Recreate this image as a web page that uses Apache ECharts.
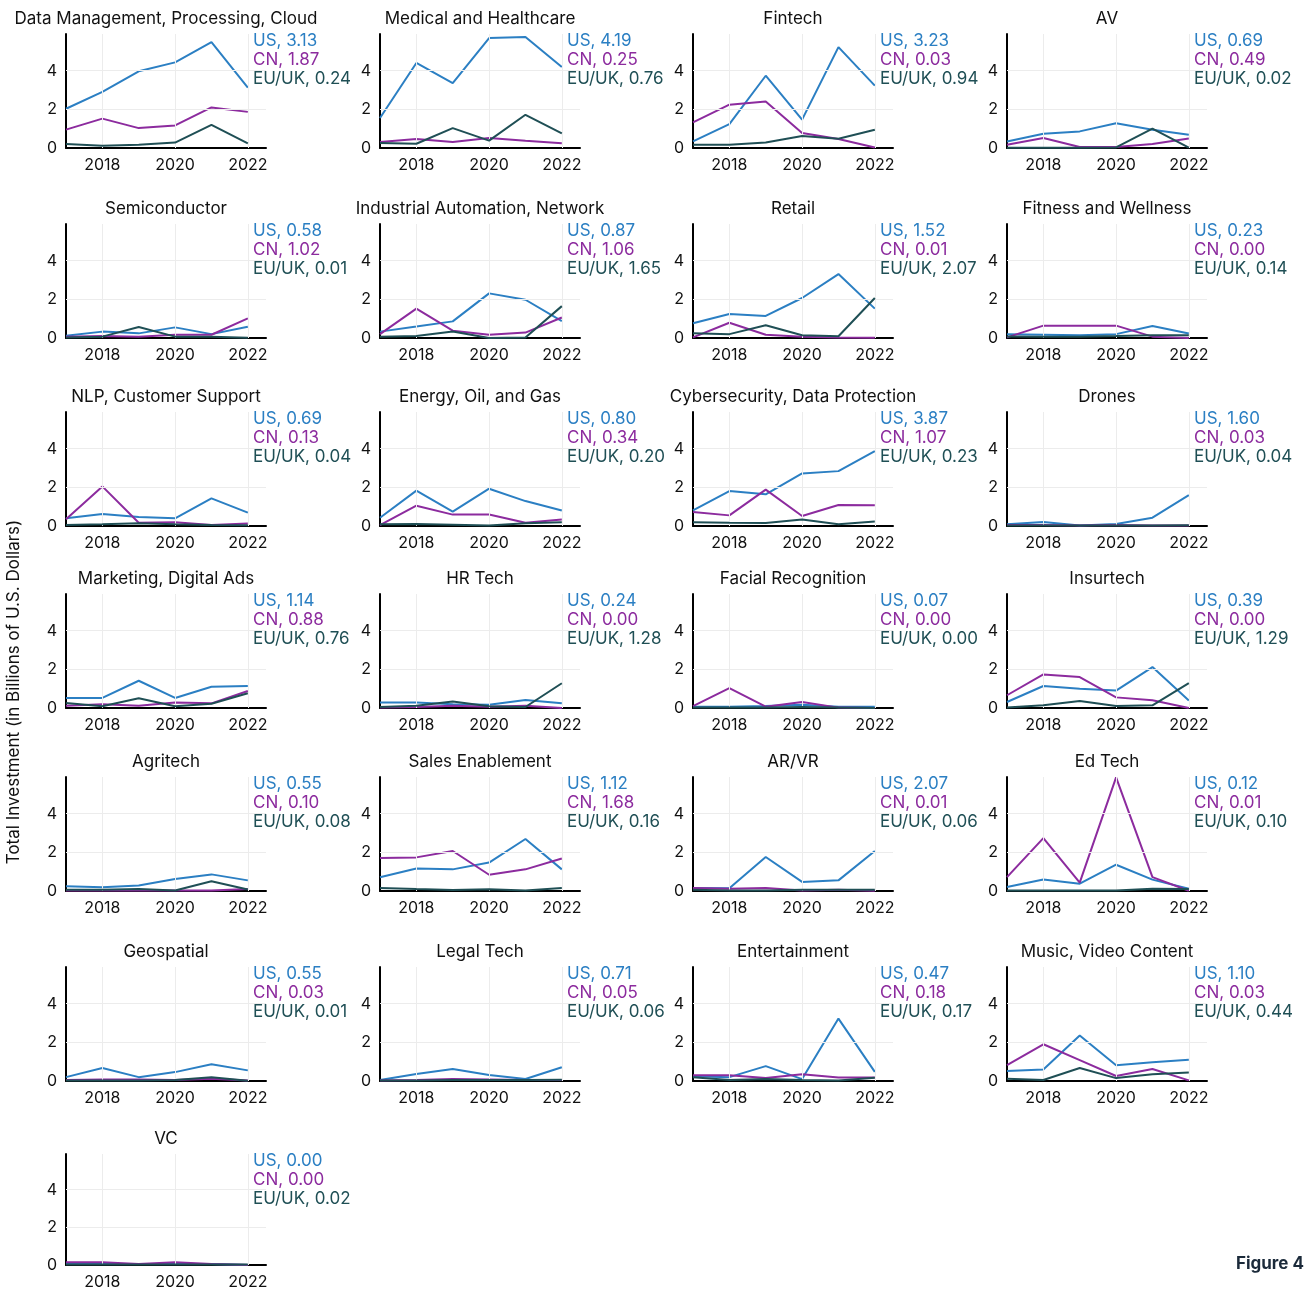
<!DOCTYPE html>
<html>
<head>
<meta charset="utf-8">
<script src="https://cdn.jsdelivr.net/npm/echarts@6/dist/echarts.min.js"></script>
<style>
html,body{margin:0;padding:0;background:#fff;}
#chart{width:1306px;height:1290px;}
</style>
</head>
<body>
<div id="chart"></div>
<script>
// ---------------- DATA ----------------
const years = [2017, 2018, 2019, 2020, 2021, 2022];
const xTickYears = [2018, 2020, 2022];
const yTicks = [0, 2, 4];
const seriesNames = ['US', 'CN', 'EU/UK'];

const categories = [
  'Data Management, Processing, Cloud', 'Medical and Healthcare', 'Fintech', 'AV',
  'Semiconductor', 'Industrial Automation, Network', 'Retail', 'Fitness and Wellness',
  'NLP, Customer Support', 'Energy, Oil, and Gas', 'Cybersecurity, Data Protection', 'Drones',
  'Marketing, Digital Ads', 'HR Tech', 'Facial Recognition', 'Insurtech',
  'Agritech', 'Sales Enablement', 'AR/VR', 'Ed Tech',
  'Geospatial', 'Legal Tech', 'Entertainment', 'Music, Video Content',
  'VC'
];

const usValues = [
  [2.03, 2.90, 3.97, 4.43, 5.48, 3.13],
  [1.55, 4.40, 3.36, 5.69, 5.74, 4.19],
  [0.34, 1.24, 3.74, 1.47, 5.22, 3.23],
  [0.34, 0.74, 0.86, 1.28, 0.95, 0.69],
  [0.12, 0.33, 0.24, 0.55, 0.20, 0.58],
  [0.33, 0.59, 0.86, 2.31, 1.98, 0.87],
  [0.76, 1.24, 1.14, 2.07, 3.31, 1.52],
  [0.20, 0.17, 0.14, 0.20, 0.62, 0.23],
  [0.40, 0.62, 0.47, 0.40, 1.43, 0.69],
  [0.43, 1.83, 0.74, 1.93, 1.29, 0.80],
  [0.81, 1.81, 1.64, 2.72, 2.84, 3.87],
  [0.09, 0.21, 0.03, 0.10, 0.43, 1.60],
  [0.52, 0.52, 1.41, 0.52, 1.10, 1.14],
  [0.29, 0.29, 0.20, 0.17, 0.41, 0.24],
  [0.07, 0.07, 0.10, 0.17, 0.07, 0.07],
  [0.31, 1.14, 1.00, 0.90, 2.12, 0.39],
  [0.24, 0.19, 0.28, 0.62, 0.86, 0.55],
  [0.71, 1.16, 1.12, 1.47, 2.69, 1.12],
  [0.16, 0.14, 1.76, 0.47, 0.55, 2.07],
  [0.21, 0.59, 0.38, 1.36, 0.59, 0.12],
  [0.20, 0.67, 0.20, 0.46, 0.87, 0.55],
  [0.05, 0.36, 0.62, 0.31, 0.10, 0.71],
  [0.25, 0.20, 0.77, 0.10, 3.23, 0.47],
  [0.52, 0.60, 2.36, 0.82, 0.97, 1.10],
  [0.05, 0.05, 0.05, 0.05, 0.05, 0.00]
];

const cnValues = [
  [0.95, 1.52, 1.03, 1.17, 2.10, 1.87],
  [0.31, 0.47, 0.31, 0.52, 0.38, 0.25],
  [1.33, 2.24, 2.41, 0.78, 0.47, 0.03],
  [0.17, 0.52, 0.05, 0.05, 0.21, 0.49],
  [0.07, 0.10, 0.07, 0.17, 0.17, 1.02],
  [0.20, 1.52, 0.38, 0.17, 0.28, 1.06],
  [0.03, 0.79, 0.17, 0.07, 0.03, 0.01],
  [0.03, 0.64, 0.64, 0.64, 0.07, 0.00],
  [0.35, 2.05, 0.17, 0.20, 0.05, 0.13],
  [0.05, 1.05, 0.59, 0.60, 0.17, 0.34],
  [0.72, 0.55, 1.88, 0.52, 1.09, 1.07],
  [0.05, 0.05, 0.03, 0.05, 0.03, 0.03],
  [0.12, 0.20, 0.12, 0.29, 0.24, 0.88],
  [0.03, 0.05, 0.12, 0.07, 0.12, 0.00],
  [0.10, 1.03, 0.07, 0.31, 0.02, 0.00],
  [0.66, 1.74, 1.60, 0.55, 0.40, 0.00],
  [0.03, 0.03, 0.03, 0.03, 0.03, 0.10],
  [1.71, 1.74, 2.07, 0.84, 1.12, 1.68],
  [0.16, 0.12, 0.16, 0.03, 0.07, 0.01],
  [0.72, 2.74, 0.43, 5.88, 0.72, 0.01],
  [0.05, 0.08, 0.08, 0.05, 0.12, 0.03],
  [0.03, 0.05, 0.10, 0.08, 0.05, 0.05],
  [0.30, 0.30, 0.15, 0.35, 0.18, 0.18],
  [0.82, 1.90, 1.08, 0.26, 0.62, 0.03],
  [0.15, 0.15, 0.05, 0.15, 0.05, 0.00]
];

const euValues = [
  [0.21, 0.12, 0.17, 0.28, 1.20, 0.24],
  [0.26, 0.22, 1.03, 0.38, 1.72, 0.76],
  [0.17, 0.17, 0.28, 0.62, 0.48, 0.94],
  [0.01, 0.01, 0.01, 0.03, 1.00, 0.02],
  [0.03, 0.07, 0.57, 0.07, 0.07, 0.01],
  [0.07, 0.10, 0.34, 0.00, 0.03, 1.65],
  [0.24, 0.20, 0.66, 0.14, 0.09, 2.07],
  [0.08, 0.07, 0.07, 0.10, 0.14, 0.14],
  [0.05, 0.09, 0.14, 0.09, 0.05, 0.04],
  [0.09, 0.10, 0.07, 0.03, 0.14, 0.20],
  [0.19, 0.17, 0.16, 0.34, 0.09, 0.23],
  [0.02, 0.03, 0.02, 0.02, 0.03, 0.04],
  [0.26, 0.09, 0.50, 0.09, 0.22, 0.76],
  [0.05, 0.12, 0.34, 0.09, 0.05, 1.28],
  [0.02, 0.02, 0.03, 0.05, 0.02, 0.00],
  [0.02, 0.14, 0.36, 0.10, 0.14, 1.29],
  [0.07, 0.07, 0.10, 0.03, 0.50, 0.08],
  [0.16, 0.10, 0.05, 0.09, 0.03, 0.16],
  [0.07, 0.03, 0.03, 0.07, 0.07, 0.06],
  [0.03, 0.03, 0.03, 0.03, 0.12, 0.10],
  [0.02, 0.03, 0.03, 0.05, 0.20, 0.01],
  [0.02, 0.03, 0.05, 0.05, 0.05, 0.06],
  [0.20, 0.05, 0.10, 0.05, 0.03, 0.17],
  [0.12, 0.05, 0.67, 0.15, 0.35, 0.44],
  [0.03, 0.03, 0.03, 0.03, 0.03, 0.02]
];

// ---------------- STYLE / LAYOUT ----------------
const FONT = 'Inter, "Noto Sans", sans-serif';
const COLORS = ['#2b7fc3', '#8c2b9e', '#1f4f55'];
const COL_LEFT = [66, 380, 693, 1007];
const ROW_ZERO = [148, 338, 526, 708, 891, 1081, 1268];
const PLOT_W = 200, PLOT_H = 114;
const Y_MAX = 5.9, X_MAX = 2022.5;

const grids = [], xAxes = [], yAxes = [], series = [], titles = [], graphics = [];

categories.forEach((name, i) => {
  const col = i % 4, row = Math.floor(i / 4);
  const left = COL_LEFT[col];
  const zero = ROW_ZERO[row];
  const top = zero - PLOT_H;
  grids.push({ left: left, top: top, width: PLOT_W, height: PLOT_H, containLabel: false });
  xAxes.push({
    gridIndex: i, type: 'value', min: years[0], max: X_MAX, interval: 1,
    axisLine: { show: true, onZero: true, lineStyle: { color: '#000', width: 2 } },
    axisTick: { show: false },
    splitLine: { show: false },
    axisLabel: {
      formatter: v => (xTickYears.indexOf(v) >= 0 ? String(v) : ''),
      color: '#111', fontSize: 16, fontFamily: FONT, margin: 9,
      showMinLabel: true, showMaxLabel: true, hideOverlap: false
    }
  });
  yAxes.push({
    gridIndex: i, type: 'value', min: 0, max: Y_MAX, interval: 2,
    axisLine: { show: true, lineStyle: { color: '#000', width: 2 } },
    axisTick: { show: false },
    splitLine: { show: false },
    axisLabel: {
      formatter: v => (yTicks.indexOf(v) >= 0 ? String(v) : ''),
      color: '#111', fontSize: 16, fontFamily: FONT, margin: 9
    }
  });
  // light gridlines
  series.push({
    type: 'line', xAxisIndex: i, yAxisIndex: i, data: [], silent: true, z: 1,
    markLine: {
      silent: true, symbol: 'none', animation: false,
      label: { show: false },
      lineStyle: { color: '#ececec', type: 'solid', width: 1 },
      data: xTickYears.map(y => ({ xAxis: y })).concat(yTicks.filter(t => t > 0).map(t => ({ yAxis: t })))
    }
  });
  const sets = [usValues[i], cnValues[i], euValues[i]];
  const order = [2, 0, 1];
  order.forEach(k => {
    series.push({
      name: seriesNames[k], type: 'line', xAxisIndex: i, yAxisIndex: i,
      data: years.map((yr, j) => [yr, sets[k][j]]),
      showSymbol: false, symbol: 'none', z: 3 + k,
      lineStyle: { color: COLORS[k], width: 2 },
      itemStyle: { color: COLORS[k] },
      animation: false
    });
  });
  titles.push({
    text: name, left: left + PLOT_W / 2, top: top - 24, textAlign: 'center', padding: 0,
    textStyle: { fontSize: 17, fontWeight: 'normal', color: '#111', fontFamily: FONT }
  });
  sets.forEach((arr, k) => {
    graphics.push({
      type: 'text', x: left + 187, y: top + 7 + k * 19, silent: true,
      style: {
        text: seriesNames[k] + ', ' + arr[arr.length - 1].toFixed(2),
        fill: COLORS[k], font: '17px ' + FONT, align: 'left', verticalAlign: 'middle'
      }
    });
  });
});

graphics.push({
  type: 'text', x: 14, y: 692, rotation: Math.PI / 2, silent: true,
  style: {
    text: 'Total Investment (in Billions of U.S. Dollars)', fill: '#111',
    font: '17px ' + FONT, align: 'center', verticalAlign: 'middle'
  }
});
graphics.push({
  type: 'text', x: 1304, y: 1264, silent: true,
  style: { text: 'Figure 4', fill: '#1b2a3a', font: 'bold 17px ' + FONT, align: 'right', verticalAlign: 'middle' }
});

const chart = echarts.init(document.getElementById('chart'), null, { renderer: 'canvas' });
chart.setOption({
  animation: false,
  backgroundColor: '#fff',
  title: titles,
  grid: grids,
  xAxis: xAxes,
  yAxis: yAxes,
  series: series,
  graphic: graphics
});
</script>
</body>
</html>
